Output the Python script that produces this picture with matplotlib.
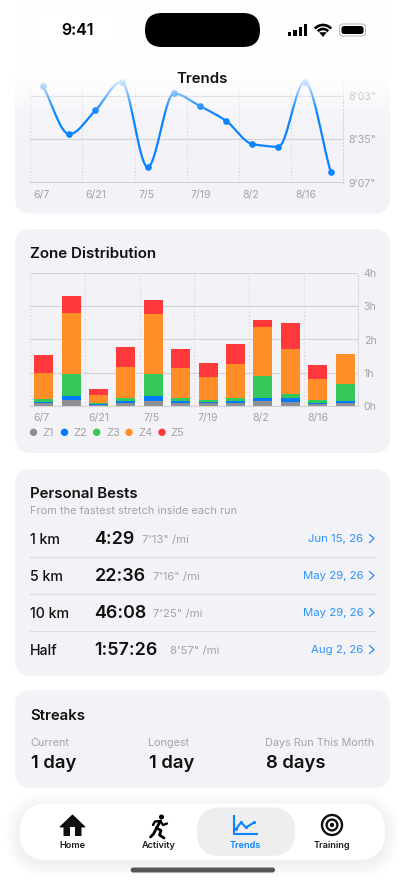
import numpy as np
import matplotlib
matplotlib.use("Agg")
import matplotlib.pyplot as plt
from matplotlib.patches import FancyBboxPatch, Circle, Polygon, Rectangle, Arc, PathPatch
from matplotlib.path import Path
from matplotlib.transforms import ScaledTranslation

plt.rcParams['font.family'] = ['Inter', 'DejaVu Sans']

W, H = 405, 880

# trends: pace in seconds per mile
pace = [476, 511.5, 494, 473, 535.7, 481.5, 490.8, 501.7, 518.7, 520.7, 473, 539.2]
pace_ticks = [451, 483, 515, 547]
date_labels = ['6/7', '6/21', '7/5', '7/19', '8/2', '8/16']

# zone hours per bar
z1 = [0.07, 0.17, 0.02, 0.09, 0.15, 0.09, 0.07, 0.09, 0.13, 0.12, 0.06, 0.07]
z2 = [0.05, 0.13, 0.04, 0.05, 0.14, 0.05, 0.04, 0.05, 0.11, 0.10, 0.03, 0.06]
z3 = [0.08, 0.66, 0.01, 0.09, 0.67, 0.09, 0.06, 0.09, 0.67, 0.13, 0.07, 0.52]
z4 = [0.80, 1.84, 0.26, 0.94, 1.80, 0.92, 0.69, 1.02, 1.47, 1.36, 0.66, 0.91]
z5 = [0.52, 0.50, 0.16, 0.60, 0.44, 0.55, 0.42, 0.61, 0.21, 0.79, 0.40, 0.0]
zone_names = ['Z1', 'Z2', 'Z3', 'Z4', 'Z5']
zone_colors = ['#8E8E93', '#007AFF', '#34C759', '#FF8D28', '#FF383C']

bests = ['1 km', '5 km', '10 km', 'Half']
best_times = ['4:29', '22:36', '46:08', '1:57:26']
best_paces = ['7\'13" /mi', '7\'16" /mi', '7\'25" /mi', '8\'57" /mi']
best_dates = ['Jun 15, 26', 'May 29, 26', 'May 29, 26', 'Aug 2, 26']

streak_labels = ['Current', 'Longest', 'Days Run This Month']
streak_values = ['1 day', '1 day', '8 days']

tabs = ['Home', 'Activity', 'Trends', 'Training']

CARD = '#F2F2F7'
GREY = '#A3A3A8'
GRID = '#D2D2D8'
BLUE = '#0A84FF'
INK = '#111111'


def px_axes(z):
    a = fig.add_axes([0, 0, 1, 1], zorder=z)
    a.set_xlim(0, W)
    a.set_ylim(H, 0)
    a.axis('off')
    a.patch.set_alpha(0)
    return a


def chart_axes(x0, x1, y0, y1):
    a = fig.add_axes([x0 / W, 1 - y1 / H, (x1 - x0) / W, (y1 - y0) / H], zorder=1)
    a.patch.set_alpha(0)
    for s in ['top', 'left']:
        a.spines[s].set_visible(False)
    a.spines['right'].set_color(GRID)
    a.spines['right'].set_linestyle((0, (1, 2)))
    a.spines['bottom'].set_color(GRID)
    a.spines['bottom'].set_linewidth(0.8)
    a.yaxis.tick_right()
    a.tick_params(length=0, labelsize=7.6, labelcolor=GREY, pad=4)
    a.grid(axis='y', color=GRID, lw=0.8)
    a.grid(axis='x', color=GRID, lw=0.8, ls=(0, (1, 2)))
    a.set_axisbelow(True)
    return a


def card(a, x0, y0, x1, y1, color=CARD, r=16, z=1, **kw):
    a.add_patch(FancyBboxPatch((x0 + r, y0 + r), x1 - x0 - 2 * r, y1 - y0 - 2 * r,
                               boxstyle=f'round,pad={r},rounding_size={r}',
                               fc=color, ec='none', zorder=z, **kw))


def monotone_path(xs, ys):
    # monotone cubic through the points, same as the app's smooth line
    xs = np.asarray(xs, float)
    ys = np.asarray(ys, float)
    d = np.diff(ys) / np.diff(xs)
    m = np.zeros(len(ys))
    for i in range(1, len(ys) - 1):
        if d[i - 1] * d[i] > 0:
            m[i] = 2 * d[i - 1] * d[i] / (d[i - 1] + d[i])
    m[0] = d[0]
    m[-1] = d[-1]
    verts = [(xs[0], ys[0])]
    codes = [Path.MOVETO]
    for i in range(len(ys) - 1):
        h = (xs[i + 1] - xs[i]) / 3
        verts += [(xs[i] + h, ys[i] + m[i] * h), (xs[i + 1] - h, ys[i + 1] - m[i + 1] * h),
                  (xs[i + 1], ys[i + 1])]
        codes += [Path.CURVE4] * 3
    return Path(verts, codes)


def pace_label(v):
    return f"{int(v) // 60}'{int(v) % 60:02d}\""


def label(x, y, s, **kw):
    # inter sits a bit high with va=center
    kw.setdefault('va', 'center')
    return top.text(x, y + 1.2, s, **kw)


def white_ramp(a, alpha, z):
    rgba = np.ones((len(alpha), 1, 4))
    rgba[:, 0, 3] = alpha
    a.imshow(rgba, extent=(0, W, len(alpha), 0), aspect='auto', zorder=z)
    a.set_xlim(0, W)
    a.set_ylim(H, 0)


fig = plt.figure(figsize=(W / 100, H / 100), dpi=100, facecolor='white')

bg = px_axes(0)
card(bg, 15, -40, 390, 213.5)
card(bg, 15, 229, 390, 453)
card(bg, 15, 469, 390, 676)
card(bg, 15, 690, 390, 788)
# card colour only settles well below the header
rows = np.arange(0, 150)
white_ramp(bg, np.clip((150 - rows) / 80, 0, 1) * 0.6, 2)

# trends chart
ax1 = chart_axes(30, 343, 52, 182.5)
idx = np.arange(len(pace))
ax1.add_patch(PathPatch(monotone_path(idx, pace), fc='none', ec=BLUE, lw=1.6))
ax1.plot(idx, pace, ls='none', marker='o', ms=4.8, color=BLUE, mew=0)
ax1.set_xlim(-0.49, 11.47)
ax1.set_ylim(pace_ticks[-1], pace_ticks[0])
ax1.set_yticks(pace_ticks, [pace_label(v) for v in pace_ticks])
ax1.set_xticks(np.arange(len(date_labels)) * 2 - 0.5, date_labels, ha='left')

# zone chart
ax2 = chart_axes(29.7, 358.3, 273.3, 405.7)
bottom = np.zeros(12)
for vals, name, col in zip([z1, z2, z3, z4, z5], zone_names, zone_colors):
    ax2.bar(np.arange(12), vals, 0.69, bottom=bottom, color=col, label=name)
    bottom += np.array(vals)
ax2.set_xlim(-0.51, 11.48)
ax2.set_ylim(0, 4)
ax2.set_yticks([0, 1, 2, 3, 4], ['0h', '1h', '2h', '3h', '4h'])
ax2.set_xticks(np.arange(len(date_labels)) * 2 - 0.5, date_labels, ha='left')

shift = ScaledTranslation(3.5 / 100, -1.5 / 100, fig.dpi_scale_trans)
for a in (ax1, ax2):
    for lab in a.get_xticklabels():
        lab.set_transform(lab.get_transform() + shift)

# header fade, white over the top of the card and chart
fade = px_axes(2)
rows = np.arange(0, 130)
t = np.clip((118 - rows) / 50, 0, 1)
white_ramp(fade, 0.96 * t * t * (3 - 2 * t), 1)

top = px_axes(3)

# status bar
card(top, 33, 14, 115, 41, color='white', r=13, z=1)
label(77, 29.5, '9:41', fontsize=11.5, fontweight='semibold', ha='center', color='black')
card(top, 145, 13, 260, 47, color='black', r=17, z=2)
for bx, bh in zip([287.5, 293, 298.5, 303.5], [4, 6, 9, 12]):
    top.add_patch(Rectangle((bx, 36 - bh), 3.6, bh, fc='black', ec='none'))
for dia in [22, 14]:
    top.add_patch(Arc((323, 36), dia, dia, theta1=222, theta2=318, ec='black', lw=1.9))
top.add_patch(Polygon([[323, 36.5], [319.7, 32.5], [326.3, 32.5]], fc='black', ec='black', lw=0.4))
card(top, 339, 23.5, 366, 36.5, color='#B8B8BC', r=4, z=2)
card(top, 340, 24.5, 365, 35.5, color='white', r=3.5, z=2)
card(top, 341.5, 26, 363.5, 34, color='black', r=2.5, z=3)

label(202.5, 78, 'Trends', fontsize=10.8, fontweight='semibold', ha='center', color=INK)

# zone card text
label(30, 253, 'Zone Distribution', fontsize=10.9, fontweight='semibold', color=INK)
for cx, tx, name, col in zip([33.5, 64.5, 96.7, 129, 162], [42, 73, 106, 138, 170], zone_names, zone_colors):
    top.add_patch(Circle((cx, 432.3), 3.7, fc=col, ec='none'))
    label(tx, 432, name, fontsize=8, color=GREY)

# personal bests
label(30, 492.7, 'Personal Bests', fontsize=10.8, fontweight='semibold', color=INK)
label(30, 510, 'From the fastest stretch inside each run', fontsize=7.9, color=GREY)
row_y = [539, 576, 613, 650]
pace_x = [141.7, 153, 153, 170]
for i, y in enumerate(row_y):
    label(30, y, bests[i], fontsize=10.2, color=INK, fontweight='medium')
    label(94.5, y - 0.5, best_times[i], fontsize=12.9, fontweight='semibold', color=INK)
    label(pace_x[i], y - 0.5, best_paces[i], fontsize=8.2, color=GREY)
    label(363.5, y - 0.8, best_dates[i], fontsize=8.2, color=BLUE, ha='right', alpha=0.85)
    top.plot([369.5, 374, 369.5], [y - 4.5, y - 0.5, y + 3.5], color=BLUE, lw=0.8)
    if i < 3:
        top.plot([30, 375], [y + 18.3, y + 18.3], color='#DCDCE0', lw=0.8)

# streaks
label(30, 715, 'Streaks', fontsize=10.8, fontweight='semibold', color=INK)
for x, lab, val in zip([30, 148, 265], streak_labels, streak_values):
    label(x, 741.7, lab, fontsize=7.8, color=GREY)
    label(x + 1, 762.5, val, fontsize=13.3, fontweight='semibold', color=INK)

# tab bar with a soft shadow
for grow in range(14, 0, -2):
    card(top, 19.7 - grow, 803.3 - grow + 3, 385 + grow, 860 + grow + 3, color='black', r=28 + grow, z=1, alpha=0.006)
card(top, 19.7, 803.3, 385, 860, color='white', r=28, z=2)
card(top, 196.7, 807.3, 295, 856, color='#EEEEEE', r=24, z=3)
for x, lab in zip([72.3, 159, 245, 332], tabs):
    col = BLUE if lab == 'Trends' else '#1C1C1E'
    label(x, 844.5, lab, fontsize=6.6, fontweight='semibold', color=col, ha='center', zorder=5)

# home icon
top.add_patch(Polygon([[60, 827], [72.5, 815], [85, 827], [81.5, 827], [72.5, 818.5], [63.5, 827]], fc='black', ec='black', lw=0.6, zorder=5))
top.add_patch(Polygon([[63.5, 825.5], [72.5, 817.5], [81.5, 825.5], [81.5, 836], [63.5, 836]], fc=INK, ec='none', zorder=5))
top.add_patch(Rectangle((69.7, 827.5), 5.6, 8.5, fc='white', ec='none', zorder=6))
# runner icon
top.add_patch(Circle((161.5, 817), 2.5, fc='black', ec='none', zorder=5))
top.plot([160.5, 156.5, 153.5, 150.5], [821, 828, 834, 837], color='black', lw=2, zorder=5, solid_capstyle='round')
top.plot([156.5, 161, 159.5, 164], [828, 830.5, 835, 838], color='black', lw=2, zorder=5, solid_capstyle='round')
top.plot([153, 155, 160.5, 163, 167], [825, 821.5, 821, 825, 823.5], color='black', lw=1.7, zorder=5, solid_capstyle='round')
# trends icon
top.plot([234, 234, 256.5], [816, 834.5, 834.5], color=BLUE, lw=1.5, zorder=5)
top.plot([236, 241, 246, 254], [829, 822.5, 827.5, 822.5], color=BLUE, lw=1.5, zorder=5, marker='o', ms=2.2, mew=0)
# training icon
for r, lw in [(10, 1.7), (5.4, 1.7)]:
    top.add_patch(Circle((332, 825), r, fc='none', ec=INK, lw=lw, zorder=5))
top.add_patch(Circle((332, 825), 2.2, fc=INK, ec='none', zorder=5))

# home indicator
card(top, 130.7, 867.5, 275, 872.5, color='#555555', r=2.5, z=5)

fig.savefig('out.png', dpi=100)
